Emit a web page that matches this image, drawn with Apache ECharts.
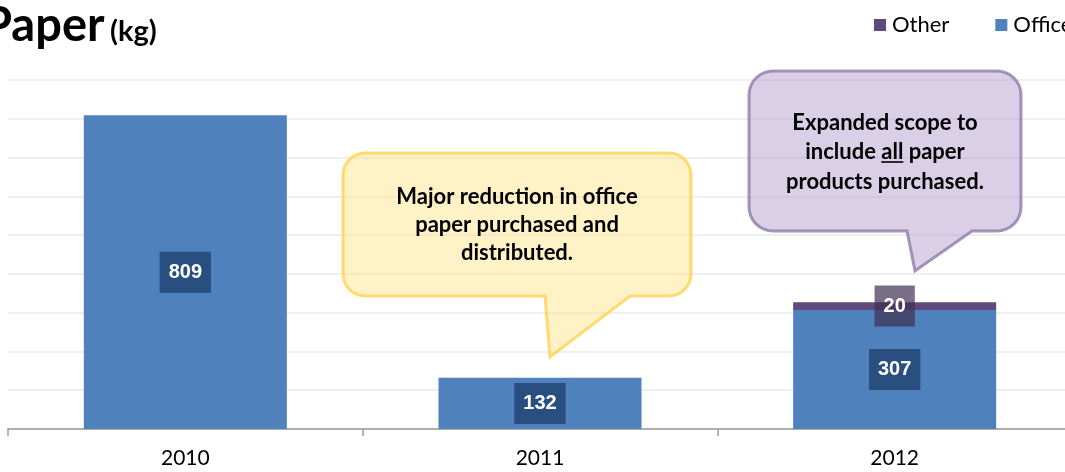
<!DOCTYPE html>
<html>
<head>
<meta charset="utf-8">
<script src="https://cdn.jsdelivr.net/npm/echarts@6/dist/echarts.min.js"></script>
<style>
  html, body { margin: 0; padding: 0; background: #fff; }
  #chart { width: 1065px; height: 472px; }
</style>
</head>
<body>
<div id="chart"></div>
<script>
// Paper purchased per year (kg)
const years = ['2010', '2011', '2012'];
const officePaper = [809, 132, 307];
const otherPaper = ['-', '-', 20];
const yTicks = { min: 0, max: 900, step: 100 };

const noteReduction = ['Major reduction in office', 'paper purchased and', 'distributed.'];
const noteScope = ['Expanded scope to', 'include all paper', 'products purchased.'];

const chart = echarts.init(document.getElementById('chart'));

// Rounded rectangle with a pointer tail, as a polygon outline
function bubblePoints(x0, y0, x1, y1, r, tailA, tailB, tip) {
  const pts = [];
  const arc = (cx, cy, a0, a1) => {
    for (let i = 0; i <= 8; i++) {
      const a = a0 + (a1 - a0) * i / 8;
      pts.push([cx + r * Math.cos(a), cy + r * Math.sin(a)]);
    }
  };
  arc(x0 + r, y0 + r, Math.PI, 1.5 * Math.PI);
  arc(x1 - r, y0 + r, 1.5 * Math.PI, 2 * Math.PI);
  arc(x1 - r, y1 - r, 0, 0.5 * Math.PI);
  pts.push([tailB, y1]);
  pts.push(tip);
  pts.push([tailA, y1]);
  arc(x0 + r, y1 - r, 0.5 * Math.PI, Math.PI);
  return pts;
}

const noteFont = 'bold 22px Lato, "Open Sans", sans-serif';

// Underline under the word "all" in the scope note
const measureCtx = document.createElement('canvas').getContext('2d');
measureCtx.font = noteFont;
const scopeCx = 885;
const scopeLine = noteScope[1];
const lineW = measureCtx.measureText(scopeLine).width;
const beforeW = measureCtx.measureText('include ').width;
const allW = measureCtx.measureText('all').width;
const ulX1 = scopeCx - lineW / 2 + beforeW;
const ulX2 = ulX1 + allW;

const labelStyle = {
  show: true,
  position: 'inside',
  color: '#fff',
  fontSize: 20,
  fontWeight: 'bold',
  fontFamily: '"Liberation Sans", Arial, sans-serif',
  padding: [10, 9, 9, 9],
  lineHeight: 22
};

chart.setOption({
  animation: false,
  backgroundColor: '#fff',
  legend: {
    data: ['Other', 'Office'],
    orient: 'horizontal',
    left: 869,
    top: 9,
    width: 400,
    icon: 'rect',
    itemWidth: 12,
    itemHeight: 12,
    itemGap: 46,
    textStyle: { fontFamily: 'Lato, sans-serif', fontSize: 22, color: '#000', padding: [0, 0, 0, 1] }
  },
  grid: { left: 8, top: 80, width: 1064, bottom: 43, outerBoundsMode: 'none', containLabel: false },
  xAxis: {
    type: 'category',
    data: years,
    axisLine: { lineStyle: { color: '#9a9a9a', width: 1.5 } },
    axisTick: { show: true, length: 7, lineStyle: { color: '#9a9a9a', width: 1.5 } },
    axisLabel: { fontFamily: 'Lato, sans-serif', fontSize: 21, color: '#000', margin: 19 }
  },
  yAxis: {
    type: 'value',
    min: yTicks.min,
    max: yTicks.max,
    interval: yTicks.step,
    axisLabel: { show: false },
    axisLine: { show: false },
    axisTick: { show: false },
    splitLine: { lineStyle: { color: '#efefef', width: 2 } }
  },
  series: [
    {
      name: 'Office',
      type: 'bar',
      stack: 'paper',
      data: officePaper,
      barWidth: 203,
      itemStyle: { color: '#4F81BD' },
      label: Object.assign({}, labelStyle, { backgroundColor: '#284F80' })
    },
    {
      name: 'Other',
      type: 'bar',
      stack: 'paper',
      data: otherPaper,
      barWidth: 203,
      itemStyle: { color: '#604A7B' },
      label: Object.assign({}, labelStyle, { backgroundColor: 'rgba(63,49,81,0.7)' })
    }
  ],
  graphic: [
    {
      type: 'text',
      x: -17,
      y: 2,
      style: { text: 'Paper', font: 'bold 47px Lato, sans-serif', fill: '#000', verticalAlign: 'top' }
    },
    {
      type: 'text',
      x: 110,
      y: 17,
      style: { text: '(kg)', font: 'bold 29px Lato, sans-serif', fill: '#000', verticalAlign: 'top' }
    },
    {
      type: 'polygon',
      z: 100,
      shape: { points: bubblePoints(343, 153, 691, 296, 22, 545, 630, [550, 357]) },
      style: { fill: 'rgba(255,226,130,0.45)', stroke: 'rgba(255,210,80,0.8)', lineWidth: 3 }
    },
    {
      type: 'text',
      z: 101,
      x: 517,
      y: 183,
      style: {
        text: noteReduction.join('\n'),
        font: noteFont,
        fill: '#000',
        align: 'center',
        verticalAlign: 'top',
        lineHeight: 28
      }
    },
    {
      type: 'polygon',
      z: 100,
      shape: { points: bubblePoints(749, 71, 1021, 231, 24, 907, 972, [915, 271]) },
      style: { fill: 'rgba(180,160,205,0.5)', stroke: 'rgba(130,110,160,0.7)', lineWidth: 3 }
    },
    {
      type: 'text',
      z: 101,
      x: scopeCx,
      y: 108,
      style: {
        text: noteScope.join('\n'),
        font: noteFont,
        fill: '#000',
        align: 'center',
        verticalAlign: 'top',
        lineHeight: 29.5
      }
    },
    {
      type: 'line',
      z: 101,
      shape: { x1: ulX1, y1: 162, x2: ulX2, y2: 162 },
      style: { stroke: '#000', lineWidth: 1.6 }
    }
  ]
});
</script>
</body>
</html>
